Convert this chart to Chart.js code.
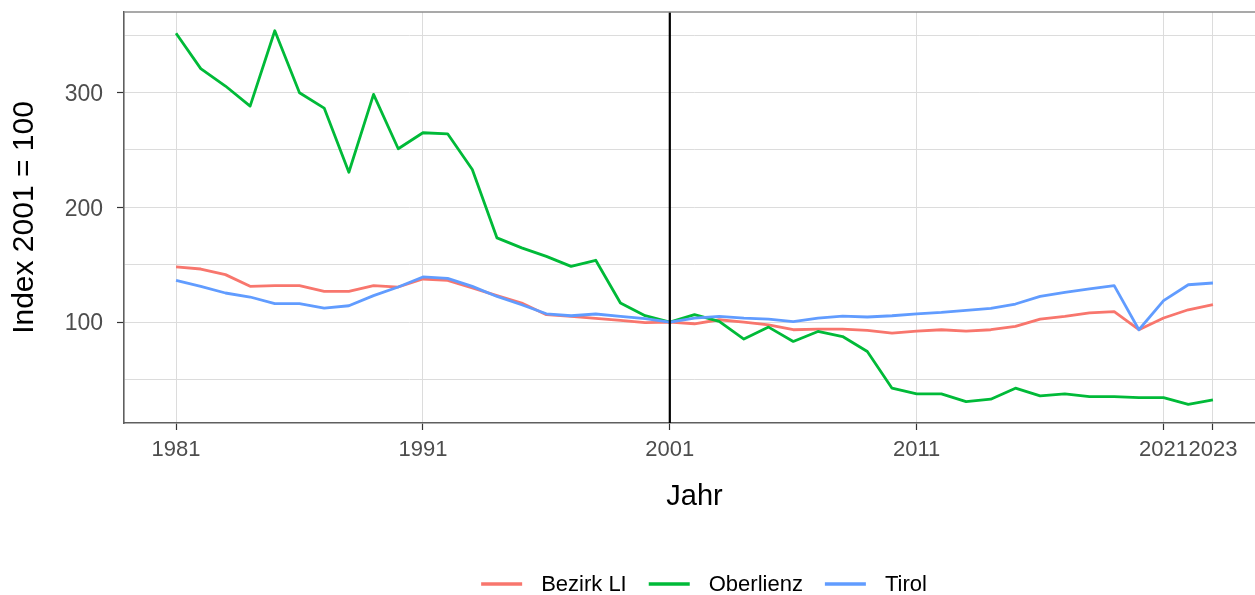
<!DOCTYPE html>
<html>
<head>
<meta charset="utf-8">
<script src="https://cdn.jsdelivr.net/npm/chart.js@4.4.1/dist/chart.umd.min.js"></script>
<style>
  html, body { margin: 0; padding: 0; background: #fff; overflow: hidden; }
  #wrap { width: 1270px; height: 595px; }
</style>
</head>
<body>
<div id="wrap"><canvas id="indexChart" width="1270" height="595"></canvas></div>
<script>
const years = [1981, 1982, 1983, 1984, 1985, 1986, 1987, 1988, 1989, 1990,
  1991, 1992, 1993, 1994, 1995, 1996, 1997, 1998, 1999, 2000,
  2001, 2002, 2003, 2004, 2005, 2006, 2007, 2008, 2009, 2010,
  2011, 2012, 2013, 2014, 2015, 2016, 2017, 2018, 2019, 2020,
  2021, 2022, 2023];

const bezirkLI = [148, 146.2, 141.3, 131.1, 131.7, 131.7, 126.7, 126.7, 131.7, 130.5,
  137.5, 136.3, 129.7, 123, 116.6, 106.4, 104.9, 103.2, 101.4, 99.5,
  100, 98.5, 102, 100, 97.6, 93.3, 93.9, 93.9, 92.7, 90.4,
  92.1, 93.3, 92.1, 93.3, 96.2, 102.6, 104.9, 107.9, 109, 93.3,
  103.5, 110.7, 115.1];

const oberlienz = [351.6, 320.8, 305.6, 288.1, 353.8, 299.8, 286.4, 230.5, 298.3, 251,
  264.9, 264, 232.9, 173.3, 164.6, 157.2, 148.5, 153.8, 116.6, 105.5,
  100, 106.4, 100.5, 85.2, 95.6, 83.1, 91.8, 87.4, 74.3, 42.4,
  37.4, 37.4, 30.7, 32.8, 42.4, 35.7, 37.4, 35.1, 35.1, 34.2,
  34.2, 28.3, 32.2];

const tirol = [136.3, 131.1, 125.3, 121.8, 116, 116, 112.2, 114.2, 123, 130.5,
  139.3, 138, 131.1, 122.3, 115.1, 107.2, 105.5, 107, 104.9, 102.9,
  100, 103.5, 104.9, 103.5, 102.6, 100.3, 103.5, 105.2, 104.4, 105.5,
  107.2, 108.4, 110.1, 111.9, 115.7, 122.3, 125.8, 128.8, 131.7, 93.3,
  118.6, 132.5, 134];

const seriesNames = ['Bezirk LI', 'Oberlienz', 'Tirol'];
const seriesColors = ['#F8766D', '#00BA38', '#619CFF'];

const xTicks = [1981, 1991, 2001, 2011, 2021, 2023];
const yTicks = [100, 200, 300];
const yGrid = [50, 100, 150, 200, 250, 300, 350];
const refYear = 2001;

const FONT = '"Liberation Sans", Arial, sans-serif';

function toPoints(vals) {
  return years.map((yr, i) => ({ x: yr, y: vals[i] }));
}

// black line at the base year + top panel border
const refLine = {
  id: 'refLine',
  afterDatasetsDraw(chart) {
    const ctx = chart.ctx;
    const area = chart.chartArea;
    const x = chart.scales.x.getPixelForValue(refYear);
    ctx.save();
    ctx.strokeStyle = '#000';
    ctx.lineWidth = 2.2;
    ctx.beginPath();
    ctx.moveTo(x, area.top);
    ctx.lineTo(x, area.bottom);
    ctx.stroke();
    ctx.strokeStyle = '#8c8c8c';
    ctx.lineWidth = 1.3;
    ctx.beginPath();
    ctx.moveTo(area.left, area.top);
    ctx.lineTo(area.right, area.top);
    ctx.stroke();
    ctx.restore();
  }
};

const bottomLegend = {
  id: 'bottomLegend',
  afterDraw(chart) {
    const ctx = chart.ctx;
    const keyW = 41, keyGap = 19, itemGap = 22, cx = 704, cy = 585;
    ctx.save();
    ctx.font = '22px ' + FONT;
    const widths = seriesNames.map(n => ctx.measureText(n).width);
    let total = 0;
    widths.forEach(w => { total += keyW + keyGap + w; });
    total += itemGap * (seriesNames.length - 1);
    let x = cx - total / 2;
    seriesNames.forEach((name, i) => {
      ctx.strokeStyle = seriesColors[i];
      ctx.lineWidth = 3.4;
      ctx.beginPath();
      ctx.moveTo(x, cy - 1);
      ctx.lineTo(x + keyW, cy - 1);
      ctx.stroke();
      ctx.fillStyle = '#000';
      ctx.textBaseline = 'middle';
      ctx.textAlign = 'left';
      ctx.fillText(name, x + keyW + keyGap, cy);
      x += keyW + keyGap + widths[i] + itemGap;
    });
    ctx.restore();
  }
};

const chartCtx = document.getElementById('indexChart').getContext('2d');
new Chart(chartCtx, {
  type: 'line',
  data: {
    datasets: [bezirkLI, oberlienz, tirol].map((vals, i) => ({
      label: seriesNames[i],
      data: toPoints(vals),
      borderColor: seriesColors[i],
      backgroundColor: seriesColors[i],
      borderWidth: 2.8,
      pointRadius: 0,
      tension: 0,
      borderJoinStyle: 'round',
      order: 3 - i
    }))
  },
  options: {
    responsive: false,
    animation: false,
    devicePixelRatio: 1,
    layout: { padding: { left: 0, right: 5, top: 12, bottom: 0 }, autoPadding: false },
    plugins: {
      legend: { display: false },
      tooltip: { enabled: false }
    },
    scales: {
      x: {
        type: 'linear',
        min: 1978.892,
        max: 2025.108,
        afterBuildTicks: s => { s.ticks = xTicks.map(v => ({ value: v })); },
        afterFit: s => { s.height = 172; s.paddingLeft = 0; s.paddingRight = 0; },
        ticks: {
          autoSkip: false,
          maxRotation: 0,
          padding: 7,
          color: '#4d4d4d',
          font: { family: FONT, size: 22 },
          callback: v => String(v)
        },
        grid: { color: '#dcdcdc', lineWidth: 1, tickLength: 7, tickColor: '#333', tickWidth: 1.2 },
        border: { color: '#5f5f5f', width: 1.6 },
        title: {
          display: true,
          text: 'Jahr',
          color: '#000',
          font: { family: FONT, size: 29 },
          padding: { top: 0, bottom: 80.6 }
        }
      },
      y: {
        type: 'linear',
        min: 12.05,
        max: 370.1,
        afterBuildTicks: s => { s.ticks = yGrid.map(v => ({ value: v })); },
        afterFit: s => { s.width = 124; s.paddingTop = 0; s.paddingBottom = 0; },
        ticks: {
          padding: 14,
          labelOffset: 2,
          color: '#4d4d4d',
          font: { family: FONT, size: 23 },
          callback: v => (yTicks.includes(v) ? String(v) : '')
        },
        grid: {
          color: '#dcdcdc',
          lineWidth: 1,
          tickLength: 7,
          tickWidth: 1.2,
          tickColor: c => (c.tick && yTicks.includes(c.tick.value) ? '#333' : 'rgba(0,0,0,0)')
        },
        border: { color: '#5f5f5f', width: 1.6 },
        title: {
          display: true,
          text: 'Index 2001 = 100',
          color: '#000',
          font: { family: FONT, size: 30 },
          padding: { top: 7, bottom: 0 }
        }
      }
    }
  },
  plugins: [refLine, bottomLegend]
});
</script>
</body>
</html>
